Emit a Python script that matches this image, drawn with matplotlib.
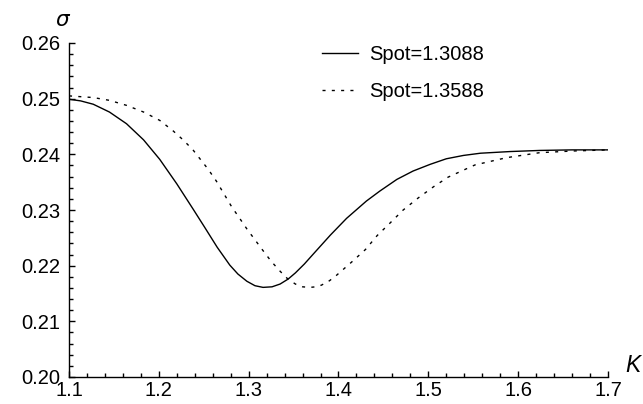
import matplotlib
matplotlib.use('Agg')
import matplotlib.pyplot as plt
from matplotlib.ticker import MultipleLocator, FormatStrFormatter

# values
k_solid = [1.100, 1.113, 1.127, 1.145, 1.164, 1.183, 1.201, 1.220, 1.238, 1.251,
           1.265, 1.279, 1.288, 1.298, 1.307, 1.316, 1.326, 1.335, 1.344, 1.352,
           1.362, 1.372, 1.391, 1.409, 1.431, 1.446, 1.465, 1.483, 1.502, 1.520,
           1.539, 1.558, 1.591, 1.624, 1.660, 1.700]
sig_solid = [0.2499, 0.2496, 0.2490, 0.2476, 0.2455, 0.2426, 0.2391, 0.2347, 0.2302, 0.2269,
             0.2233, 0.2201, 0.2185, 0.2172, 0.2164, 0.2161, 0.2162, 0.2167, 0.2176, 0.2187,
             0.2203, 0.2221, 0.2255, 0.2285, 0.2316, 0.2334, 0.2355, 0.2370, 0.2382, 0.2392,
             0.2398, 0.2402, 0.2405, 0.2407, 0.2408, 0.2408]

k_dot = [1.100, 1.127, 1.145, 1.164, 1.183, 1.201, 1.216, 1.227, 1.238, 1.255,
         1.264, 1.281, 1.290, 1.298, 1.316, 1.325, 1.335, 1.343, 1.352, 1.360,
         1.368, 1.375, 1.381, 1.390, 1.398, 1.415, 1.430, 1.443, 1.457, 1.472,
         1.489, 1.506, 1.522, 1.541, 1.552, 1.587, 1.624, 1.661, 1.700]
sig_dot = [0.2505, 0.2502, 0.2497, 0.2488, 0.2476, 0.2461, 0.2442, 0.2426, 0.2408, 0.2373,
           0.2352, 0.2306, 0.2285, 0.2266, 0.2227, 0.2208, 0.2190, 0.2177, 0.2167, 0.2162,
           0.2161, 0.2162, 0.2165, 0.2173, 0.2183, 0.2207, 0.2229, 0.2254, 0.2276, 0.2300,
           0.2322, 0.2342, 0.2359, 0.2373, 0.2381, 0.2394, 0.2403, 0.2406, 0.2408]

labels = ['Spot=1.3088', 'Spot=1.3588']

plt.rcParams['font.family'] = ['Liberation Sans', 'DejaVu Sans']
fs = 14.5

fig = plt.figure(figsize=(6.43, 4.04), dpi=100)
ax = fig.add_axes([69/643, 27/404, 539/643, 334/404])

ax.plot(k_solid, sig_solid, color='k', lw=1.0, label=labels[0])
ax.plot(k_dot, sig_dot, color='k', lw=1.0, linestyle=(0, (2.2, 4.5)), label=labels[1])

ax.set_xlim(1.1, 1.7)
ax.set_ylim(0.20, 0.26)
ax.xaxis.set_major_locator(MultipleLocator(0.1))
ax.xaxis.set_minor_locator(MultipleLocator(0.02))
ax.yaxis.set_major_locator(MultipleLocator(0.01))
ax.yaxis.set_minor_locator(MultipleLocator(0.002))
ax.xaxis.set_major_formatter(FormatStrFormatter('%.1f'))
ax.yaxis.set_major_formatter(FormatStrFormatter('%.2f'))
ax.tick_params(which='major', direction='in', length=4.5, width=1, labelsize=fs)
ax.tick_params(which='minor', direction='in', length=2.7, width=1)
ax.tick_params(axis='x', which='major', pad=3)
ax.tick_params(axis='y', which='major', pad=6)

for s in ['top', 'right']:
    ax.spines[s].set_visible(False)
for s in ['left', 'bottom']:
    ax.spines[s].set_linewidth(1)

fig.text(63/643, 1 - 20/404, r'$\sigma$', fontsize=fs + 1, ha='center', va='center')
fig.text(633/643, 1 - 366/404, 'K', fontsize=fs + 2, style='italic', ha='center', va='center')

ax.legend(loc='upper left', bbox_to_anchor=(322/643, 1 - 45/404), bbox_transform=fig.transFigure,
          frameon=False, fontsize=fs, handlelength=1.8, handletextpad=0.55, labelspacing=0.9,
          borderaxespad=0, borderpad=0)

fig.savefig('out.png', dpi=100)
